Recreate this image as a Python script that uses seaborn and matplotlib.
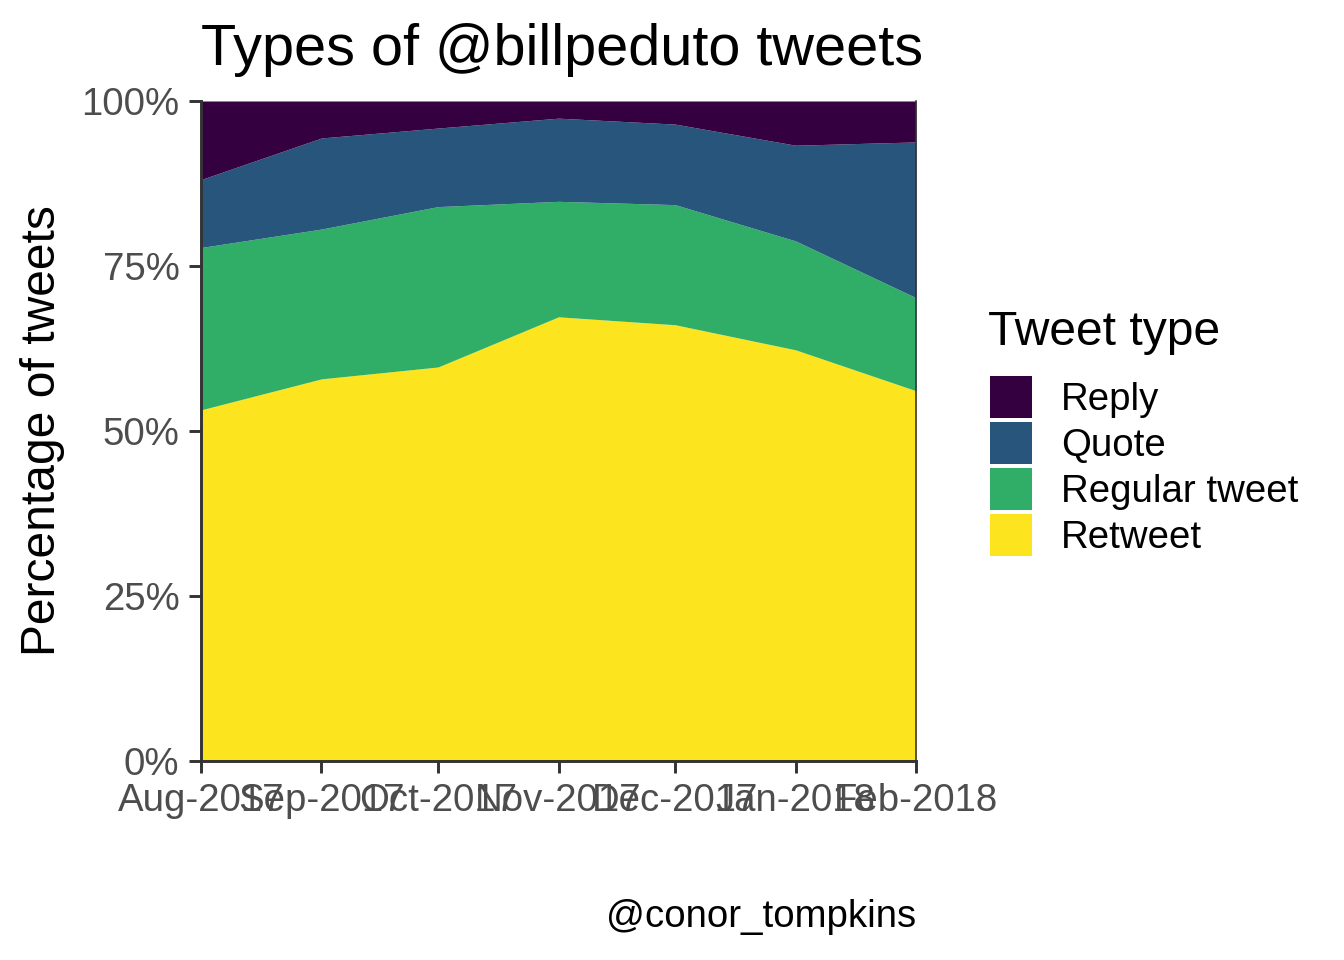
import pandas as pd
import seaborn as sns
import matplotlib.pyplot as plt
import matplotlib.dates as mdates
from matplotlib.patches import Patch
from matplotlib.ticker import PercentFormatter

# monthly share of each tweet type
months = ["2017-08-01", "2017-09-01", "2017-10-01", "2017-11-01",
          "2017-12-01", "2018-01-01", "2018-02-01"]
retweet = [53.2, 57.9, 59.7, 67.3, 66.1, 62.3, 56.1]
regular_tweet = [24.6, 22.7, 24.3, 17.5, 18.2, 16.5, 14.1]
quote = [10.3, 13.8, 11.9, 12.6, 12.2, 14.5, 23.6]
reply = [11.9, 5.6, 4.1, 2.6, 3.5, 6.7, 6.2]

tweet_types = ["Reply", "Quote", "Regular tweet", "Retweet"]
colors = ["#35003F", "#27557B", "#30AE68", "#FCE51E"]

df = pd.DataFrame({
    "date": pd.to_datetime(months),
    "Retweet": retweet,
    "Regular tweet": regular_tweet,
    "Quote": quote,
    "Reply": reply,
})

sns.set_theme(style="ticks")
plt.rcParams["font.family"] = ["Liberation Sans", "DejaVu Sans"]

fig = plt.figure(figsize=(7, 5), dpi=192)
ax = fig.add_axes([201 / 1344, 1 - 761 / 960, 715 / 1344, 660 / 960])

# stacked from the bottom: retweet, regular, quote, reply
stack_order = tweet_types[::-1]
ax.stackplot(df["date"], [df[c] / 100 for c in stack_order],
             colors=colors[::-1], linewidth=0)

ax.set_xlim(df["date"].min(), df["date"].max())
ax.set_ylim(0, 1)
ax.set_yticks([0, 0.25, 0.5, 0.75, 1.0])
ax.yaxis.set_major_formatter(PercentFormatter(1.0, decimals=0))
ax.set_xticks(df["date"])
ax.xaxis.set_major_formatter(mdates.DateFormatter("%b-%Y"))

sns.despine(ax=ax, top=True, right=False)
for side in ["left", "bottom"]:
    ax.spines[side].set_linewidth(1.1)
    ax.spines[side].set_color("#333333")
ax.spines["right"].set_linewidth(0.6)
ax.spines["right"].set_color("#333333")
ax.tick_params(axis="both", length=4.5, width=1.1, color="#333333",
               labelsize=14.4, labelcolor="#4D4D4D", pad=3.6)
ax.grid(False)

ax.set_xlabel("")
ax.set_ylabel("Percentage of tweets", fontsize=18, color="black")
ax.yaxis.set_label_coords(-0.19, 0.5)
ax.set_title("Types of @billpeduto tweets", loc="left", fontsize=21.6,
             pad=13.5, color="black")

# legend: title as separate text so the gap above the keys can be matched
fig.text(988 / 1344, 1 - 345 / 960, "Tweet type", ha="left",
         va="baseline", fontsize=18, color="black")
handles = [Patch(facecolor=c, edgecolor="none") for c in colors]
leg = fig.legend(handles, tweet_types, loc="upper left",
                 bbox_to_anchor=(990 / 1344, 1 - 376 / 960), frameon=False,
                 fontsize=14.4, labelcolor="black", handlelength=1.094,
                 handleheight=1.306, labelspacing=0.104, handletextpad=0.75,
                 borderpad=0, borderaxespad=0)

fig.text(916 / 1344, 1 - 927 / 960, "@conor_tompkins", ha="right",
         va="baseline", fontsize=14.4, color="black")

fig.savefig("out.png", dpi=192, facecolor="white")
